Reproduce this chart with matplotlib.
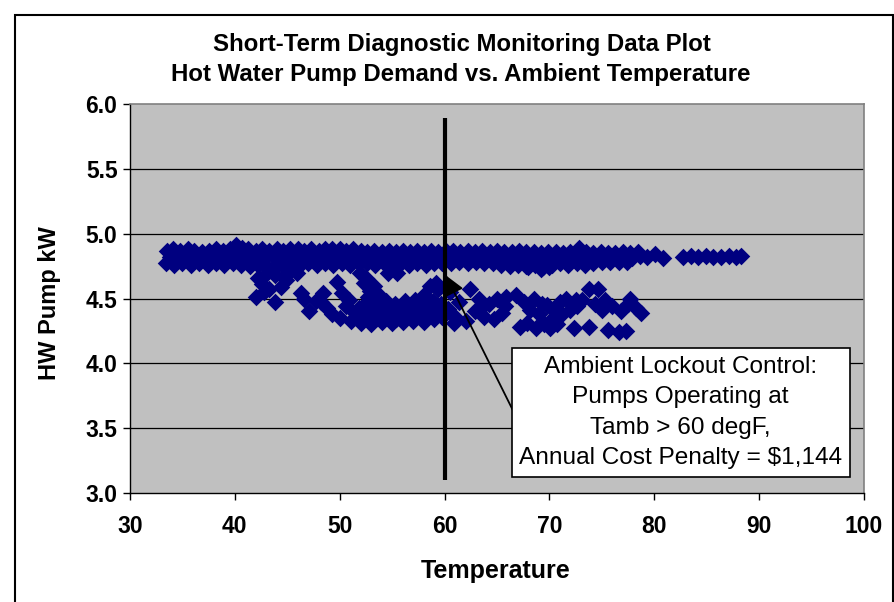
import matplotlib
matplotlib.use("Agg")
import matplotlib.pyplot as plt
from matplotlib.patches import Rectangle

plt.rcParams['font.family'] = ['Liberation Sans', 'DejaVu Sans']

# ---- data: upper band (pumps at ~4.8 kW) ----
upper_top_x = [33.5, 34.1, 34.8, 35.5, 36.1, 36.9, 37.5, 38.2, 38.9, 39.5, 40.1, 40.7, 41.3, 42.0,
               42.6, 43.3, 44.0, 44.6, 45.3, 46.0, 46.6, 47.3, 48.0, 48.6, 49.3, 50.0, 50.6, 51.3,
               52.0, 52.6, 53.3, 54.0, 54.7, 55.4, 56.0, 56.7, 57.4, 58.0, 58.7, 59.4, 60.1, 60.8,
               61.5, 62.2, 62.9, 63.6, 64.3, 65.0, 65.7, 66.4, 67.1, 67.8, 68.5, 69.2, 69.9, 70.6,
               71.3, 72.0, 72.8, 73.5, 74.2, 74.9, 75.6, 76.3, 77.0, 77.7, 78.4]
upper_top_y = [4.87, 4.88, 4.87, 4.88, 4.87, 4.86, 4.87, 4.88, 4.87, 4.88, 4.91, 4.89, 4.88, 4.87,
               4.88, 4.87, 4.88, 4.87, 4.88, 4.88, 4.87, 4.88, 4.87, 4.88, 4.88, 4.88, 4.87, 4.88,
               4.87, 4.86, 4.87, 4.86, 4.87, 4.86, 4.87, 4.86, 4.87, 4.86, 4.87, 4.86, 4.87, 4.87,
               4.86, 4.87, 4.86, 4.87, 4.86, 4.87, 4.86, 4.86, 4.87, 4.86, 4.86, 4.85, 4.86, 4.86,
               4.85, 4.86, 4.89, 4.86, 4.85, 4.86, 4.85, 4.85, 4.86, 4.85, 4.86]

upper_mid_x = [33.8, 34.5, 35.2, 35.9, 36.6, 37.2, 37.9, 38.6, 39.2, 39.8, 40.4, 41.0, 41.7, 42.3,
               43.0, 43.7, 44.3, 45.0, 45.6, 46.3, 47.0, 47.6, 48.3, 49.0, 49.6, 50.3, 51.0, 51.6,
               52.3, 53.0, 53.6, 54.3, 55.0, 55.7, 56.3, 57.0, 57.7, 58.3, 59.0, 59.7, 60.4, 61.1,
               61.8, 62.5, 63.2, 63.9, 64.6, 65.3, 66.0, 66.7, 67.4, 68.1, 68.8, 69.5, 70.2, 70.9,
               71.6, 72.3, 73.0, 73.7, 74.4, 75.1, 75.8, 76.5, 77.2, 77.9, 78.6, 79.3, 80.1, 80.8]
upper_mid_y = [4.82, 4.83, 4.81, 4.82, 4.83, 4.81, 4.82, 4.80, 4.82, 4.83, 4.81, 4.83, 4.82, 4.81,
               4.83, 4.82, 4.81, 4.83, 4.82, 4.81, 4.83, 4.82, 4.81, 4.83, 4.82, 4.81, 4.83, 4.82,
               4.81, 4.82, 4.83, 4.81, 4.82, 4.81, 4.82, 4.83, 4.81, 4.82, 4.81, 4.82, 4.83, 4.82,
               4.81, 4.82, 4.83, 4.81, 4.82, 4.81, 4.82, 4.83, 4.81, 4.82, 4.81, 4.82, 4.81, 4.82,
               4.83, 4.82, 4.81, 4.82, 4.81, 4.82, 4.83, 4.81, 4.82, 4.81, 4.83, 4.82, 4.84, 4.81]

upper_low_x = [33.4, 34.2, 35.0, 35.8, 36.6, 37.4, 38.2, 39.0, 39.8, 40.6, 41.4, 42.2, 43.0, 43.8,
               44.6, 45.4, 46.2, 47.0, 47.8, 48.6, 49.4, 50.2, 51.0, 51.8, 52.6, 53.4, 54.2, 55.0,
               55.8, 56.6, 57.4, 58.2, 59.0, 59.8, 60.6, 61.4, 62.2, 63.0, 63.8, 64.6, 65.4, 66.2,
               67.0, 67.8, 68.0, 68.6, 69.2, 69.4, 70.0, 70.2, 71.0, 71.8, 72.6, 73.4, 74.2, 75.0,
               75.8, 76.6, 77.4]
upper_low_y = [4.77, 4.76, 4.77, 4.76, 4.77, 4.76, 4.77, 4.76, 4.77, 4.76, 4.75, 4.76, 4.75, 4.74,
               4.75, 4.77, 4.76, 4.77, 4.76, 4.77, 4.76, 4.77, 4.76, 4.77, 4.77, 4.76, 4.77, 4.76,
               4.77, 4.76, 4.77, 4.76, 4.77, 4.77, 4.77, 4.78, 4.77, 4.78, 4.77, 4.77, 4.76, 4.75,
               4.76, 4.75, 4.74, 4.76, 4.73, 4.74, 4.74, 4.76, 4.77, 4.76, 4.77, 4.76, 4.77, 4.78,
               4.78, 4.78, 4.78]

# sparse readings at high ambient temperature
upper_far_x = [82.7, 83.5, 84.2, 84.9, 85.6, 86.4, 87.1, 87.8, 88.3]
upper_far_y = [4.82, 4.83, 4.82, 4.83, 4.82, 4.82, 4.83, 4.82, 4.83]

# ---- data: lower band (pumps at ~4.4 kW) ----
lower_x = [42.0, 43.8, 42.2, 42.6, 43.1, 43.8, 44.4, 45.1, 45.9, 44.9, 43.3, 42.8,
           46.3, 46.6, 47.1, 47.7, 48.2, 48.4, 48.8, 49.3, 49.7, 50.2, 50.0, 50.6, 50.9, 51.1,
           51.5, 51.8, 51.9, 52.3, 52.7,
           52.5, 53.3, 52.9, 54.6, 55.5, 58.6, 59.4, 58.0, 59.2, 57.2, 53.8,
           52.6, 53.5, 54.4, 55.3, 56.2, 57.1, 58.0, 58.9, 59.7,
           52.2, 53.1, 54.0, 54.9, 55.8, 56.7, 57.6, 58.5, 59.4,
           52.7, 53.6, 54.5, 55.4, 56.3, 57.2, 58.1, 59.0, 59.8,
           52.0, 53.0, 54.0, 55.0, 56.0, 57.0, 58.0,
           60.5, 61.4, 62.4, 63.3, 64.2, 65.0, 65.9, 66.8, 67.6, 68.5, 69.3,
           60.3, 61.0, 62.0, 62.9, 63.8, 64.7, 65.5, 65.8, 67.2, 67.9, 68.7, 69.5, 70.1, 68.1,
           69.0, 60.9, 63.5,
           69.8, 70.4, 70.3, 70.7, 71.2, 71.0, 71.6, 72.5, 72.3, 72.6, 73.1, 73.8, 73.8, 74.6,
           74.3, 75.0, 75.3, 75.6, 76.0, 76.6, 76.8, 77.3, 77.5, 77.7, 78.3, 78.7, 72.0]
lower_y = [4.51, 4.47, 4.66, 4.61, 4.70, 4.68, 4.59, 4.70, 4.70, 4.64, 4.57, 4.55,
           4.54, 4.50, 4.40, 4.48, 4.47, 4.54, 4.43, 4.38, 4.63, 4.54, 4.35, 4.44, 4.49, 4.33,
           4.39, 4.43, 4.70, 4.62, 4.51,
           4.66, 4.60, 4.56, 4.70, 4.70, 4.60, 4.57, 4.53, 4.62, 4.49, 4.52,
           4.47, 4.46, 4.48, 4.46, 4.48, 4.46, 4.47, 4.48, 4.46,
           4.41, 4.42, 4.40, 4.42, 4.41, 4.40, 4.42, 4.41, 4.40,
           4.36, 4.35, 4.36, 4.34, 4.36, 4.35, 4.36, 4.34, 4.36,
           4.31, 4.30, 4.32, 4.31, 4.32, 4.33, 4.32,
           4.55, 4.47, 4.57, 4.50, 4.46, 4.50, 4.51, 4.53, 4.47, 4.50, 4.46,
           4.42, 4.36, 4.33, 4.40, 4.36, 4.34, 4.39, 4.44, 4.28, 4.31, 4.27, 4.30, 4.27, 4.41,
           4.38, 4.31, 4.43,
           4.45, 4.40, 4.35, 4.30, 4.38, 4.47, 4.50, 4.49, 4.27, 4.44, 4.49, 4.28, 4.57, 4.57,
           4.46, 4.41, 4.49, 4.26, 4.44, 4.24, 4.40, 4.25, 4.46, 4.50, 4.43, 4.39, 4.41]

x_ticks = [30, 40, 50, 60, 70, 80, 90, 100]
y_ticks = [3.0, 3.5, 4.0, 4.5, 5.0, 5.5, 6.0]
lockout_temp = 60
title_lines = ["Short-Term Diagnostic Monitoring Data Plot",
               "Hot Water Pump Demand vs. Ambient Temperature"]
note_text = ("Ambient Lockout Control:\nPumps Operating at\n"
             "Tamb > 60 degF,\nAnnual Cost Penalty = $1,144")

# ---- figure ----
W, H = 895, 602
fig = plt.figure(figsize=(W / 100, H / 100), dpi=100)
fig.patch.set_facecolor('white')

# chart-area border
fig.patches.append(Rectangle((15 / W, -0.02), (893 - 15) / W, (602 - 15) / H + 0.02,
                             transform=fig.transFigure, fill=False, edgecolor='black',
                             linewidth=1.5))

ax = fig.add_axes([130 / W, 1 - 493 / H, (864 - 130) / W, (493 - 104) / H])
ax.set_facecolor('#C0C0C0')
ax.set_xlim(30, 100)
ax.set_ylim(3.0, 6.0)

for yv in y_ticks[1:-1]:
    ax.axhline(yv, color='#000000', lw=0.9, zorder=1)

navy = '#000080'
ms = 80
for xs, ys in [(upper_top_x, upper_top_y), (upper_mid_x, upper_mid_y),
               (upper_low_x, upper_low_y), (upper_far_x, upper_far_y),
               (lower_x, lower_y)]:
    ax.scatter(xs, ys, marker='D', s=ms, color=navy, linewidths=0, zorder=3)

# lockout line
ax.plot([lockout_temp, lockout_temp], [3.1, 5.89], color='black', lw=3, zorder=4,
        solid_capstyle='butt')

# arrow from annotation box
ax.annotate('', xy=(60.1, 4.68), xytext=(66.5, 3.64),
            arrowprops=dict(arrowstyle='-|>,head_length=0.8,head_width=0.4',
                            color='black', lw=1.3, mutation_scale=15,
                            shrinkA=0, shrinkB=0), zorder=5)

# annotation box
ax.add_patch(Rectangle((66.45, 3.12), 32.2, 1.0, facecolor='white', edgecolor='black',
                       lw=1.2, zorder=6))
ax.text(82.5, 3.62, note_text, ha='center', va='center', fontsize=17.6,
        linespacing=1.5, zorder=7)

# spines
for s in ['top', 'right']:
    ax.spines[s].set_color('#808080')
    ax.spines[s].set_linewidth(1.2)
for s in ['left', 'bottom']:
    ax.spines[s].set_color('black')
    ax.spines[s].set_linewidth(1.0)

ax.set_xticks(x_ticks)
ax.set_xticklabels([str(v) for v in x_ticks], fontsize=16.5, fontweight='bold')
ax.set_yticks(y_ticks)
ax.set_yticklabels(['%.1f' % v for v in y_ticks], fontsize=16.5, fontweight='bold')
ax.tick_params(axis='both', direction='out', length=5, width=1, color='black')
ax.tick_params(axis='x', pad=11)
ax.tick_params(axis='y', pad=4)

fig.text(462 / W, 1 - 45 / H, title_lines[0], ha='center', va='center',
         fontsize=17.3, fontweight='bold')
fig.text(461 / W, 1 - 74 / H, title_lines[1], ha='center', va='center',
         fontsize=17.3, fontweight='bold')
fig.text(496 / W, 1 - 571 / H, 'Temperature', ha='center', va='center',
         fontsize=18, fontweight='bold')
fig.text(50 / W, 1 - 303 / H, 'HW Pump kW', ha='center', va='center',
         fontsize=17, fontweight='bold', rotation=90)

fig.savefig('out.png', dpi=100)
